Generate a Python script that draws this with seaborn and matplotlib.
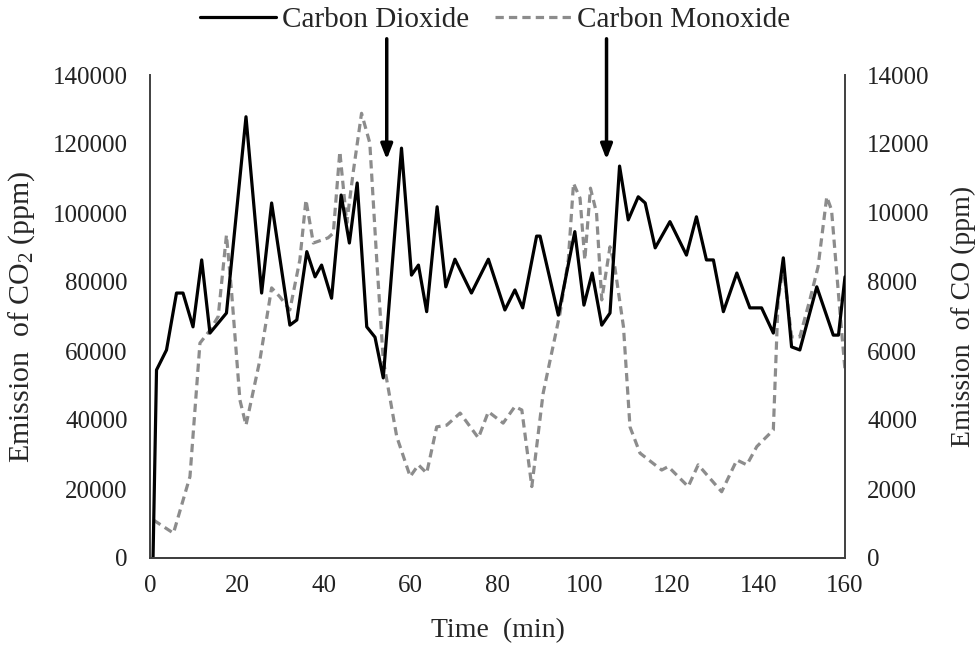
import matplotlib
matplotlib.use("Agg")
import matplotlib.pyplot as plt
import seaborn as sns
import pandas as pd
from matplotlib.lines import Line2D

# ---- data ----
time_co2 = [0.7, 1.5, 3.8, 6.1, 7.6, 9.9, 11.9, 13.8, 17.6, 22.1, 25.7, 28.0, 32.2, 33.8,
            36.1, 38.0, 39.5, 41.8, 44.0, 45.9, 47.7, 49.9, 51.8, 53.7, 57.9, 60.2, 61.8,
            63.7, 66.1, 68.1, 70.2, 74.0, 77.9, 81.7, 84.0, 85.8, 89.0, 89.8, 94.0, 97.8,
            99.9, 101.8, 104.0, 105.9, 108.1, 110.1, 112.4, 114.0, 116.3, 119.7, 123.5,
            125.8, 128.1, 129.7, 132.0, 135.1, 138.1, 140.8, 143.5, 145.8, 147.7, 149.6,
            153.5, 157.3, 158.5, 160.0]
co2 = [0, 54500, 60300, 76800, 76800, 67000, 86400, 65200, 71000, 127900, 76800, 102900,
       67500, 69000, 88800, 81500, 84900, 75300, 105200, 91300, 108700, 67000, 64000,
       52200, 118800, 82000, 84900, 71400, 101800, 78600, 86600, 76800, 86600, 71900,
       77700, 72500, 93300, 93300, 70400, 94600, 73300, 82600, 67500, 71000, 113600,
       98000, 104700, 102900, 89900, 97500, 87800, 98900, 86400, 86400, 71400, 82600,
       72500, 72500, 65200, 87000, 61200, 60300, 78600, 64600, 64600, 81500]

time_co = [0.8, 5.4, 9.2, 11.5, 13.8, 15.7, 17.6, 18.8, 20.7, 22.1, 25.3, 28.0, 29.9, 32.2,
           34.5, 35.9, 37.6, 41.0, 42.2, 43.7, 45.3, 46.8, 48.7, 50.6, 52.2, 53.7, 56.8,
           59.9, 61.8, 63.7, 66.0, 68.3, 71.4, 75.6, 77.9, 81.3, 84.0, 85.6, 87.9, 90.5,
           94.4, 96.3, 97.5, 99.0, 100.1, 101.4, 102.8, 104.0, 105.9, 107.0, 109.0, 110.5,
           112.8, 117.8, 119.3, 123.9, 126.2, 131.6, 135.1, 137.4, 139.7, 143.5, 144.6,
           145.8, 147.7, 149.6, 151.9, 153.8, 155.8, 156.9, 158.8, 160.0]
co = [1100, 720, 2360, 6230, 6600, 7000, 9360, 7680, 4580, 3850, 5740, 7830, 7570, 7190,
      8640, 10380, 9130, 9280, 9420, 11780, 9710, 11200, 12890, 12030, 8640, 5740, 3520,
      2360, 2700, 2460, 3800, 3850, 4200, 3480, 4240, 3910, 4390, 4290, 2070, 4770,
      7100, 8640, 10860, 10430, 8640, 10720, 10000, 7480, 9020, 8440, 6700, 3800,
      3040, 2550, 2650, 2070, 2700, 1920, 2840, 2700, 3230, 3710, 7480, 8440, 6410,
      6410, 7480, 8440, 10470, 10090, 7190, 5450]

x_ticks = [0, 20, 40, 60, 80, 100, 120, 140, 160]
co2_ticks = [0, 20000, 40000, 60000, 80000, 100000, 120000, 140000]
co_ticks = [0, 2000, 4000, 6000, 8000, 10000, 12000, 14000]
arrow_times = [54.5, 105.1]

df_co2 = pd.DataFrame({"t": time_co2, "v": co2})
df_co = pd.DataFrame({"t": time_co, "v": co})

sns.set_style("white")
plt.rcParams["font.family"] = ["Liberation Serif", "DejaVu Serif"]
plt.rcParams["mathtext.fontset"] = "custom"
plt.rcParams["mathtext.rm"] = "Liberation Serif"
plt.rcParams["mathtext.it"] = "Liberation Serif:italic"

fig = plt.figure(figsize=(9.79, 6.53), dpi=100)
ax = fig.add_axes([150 / 979, 95 / 653, 695 / 979, 483 / 653])
ax2 = ax.twinx()

sns.lineplot(data=df_co, x="t", y="v", ax=ax2, color="#8c8c8c", linewidth=2.3,
             linestyle=(0, (2.6, 1.6)), sort=False)
sns.lineplot(data=df_co2, x="t", y="v", ax=ax, color="black", linewidth=2.3, sort=False)
for a in (ax, ax2):
    for ln in a.get_lines():
        ln.set_solid_joinstyle("round")
        ln.set_dash_joinstyle("round")

ax.set_zorder(2)
ax.patch.set_visible(False)

ax.set_xlim(0, 160)
ax.set_ylim(0, 140000)
ax2.set_ylim(0, 14000)
ax.set_xticks(x_ticks)
ax.set_yticks(co2_ticks)
ax2.set_yticks(co_ticks)

spine_color = "#404040"
for a in (ax, ax2):
    a.spines["top"].set_visible(False)
    for s in ("left", "right", "bottom"):
        a.spines[s].set_color(spine_color)
        a.spines[s].set_linewidth(1.4)
ax.spines["right"].set_visible(False)
ax2.spines["left"].set_visible(False)

ax.tick_params(axis="both", length=0, labelsize=18, colors="#222222")
ax.tick_params(axis="y", pad=16)
ax.tick_params(axis="x", pad=12)
ax2.tick_params(axis="y", length=0, labelsize=18, pad=16, colors="#222222")

ax.set_xlabel("Time  (min)", fontsize=20)
ax.set_ylabel("Emission  of CO$_2$ (ppm)", fontsize=21.5)
ax2.set_ylabel("Emission  of CO (ppm)", fontsize=20)
ax.xaxis.set_label_coords(0.5, -0.125)
ax.yaxis.set_label_coords(-0.163, 0.5)
ax2.yaxis.set_label_coords(1.152, 0.5)

for t in arrow_times:
    ax.annotate("", xy=(t, 115500), xytext=(t, 150500), xycoords="data",
                textcoords="data", annotation_clip=False,
                arrowprops=dict(arrowstyle="-|>,head_length=0.9,head_width=0.35",
                                color="black", lw=2.5, shrinkA=0, shrinkB=0))

handles = [Line2D([], [], color="black", linewidth=2.3),
           Line2D([], [], color="#8c8c8c", linewidth=2.3, linestyle=(0, (2.6, 1.6)))]
fig.legend(handles, ["Carbon Dioxide", "Carbon Monoxide"], loc="center",
           bbox_to_anchor=(0.506, 0.969), ncol=2, frameon=False, fontsize=21,
           handlelength=2.6, handletextpad=0.2, columnspacing=0.9)

fig.savefig("out.png", dpi=100, facecolor="white")
